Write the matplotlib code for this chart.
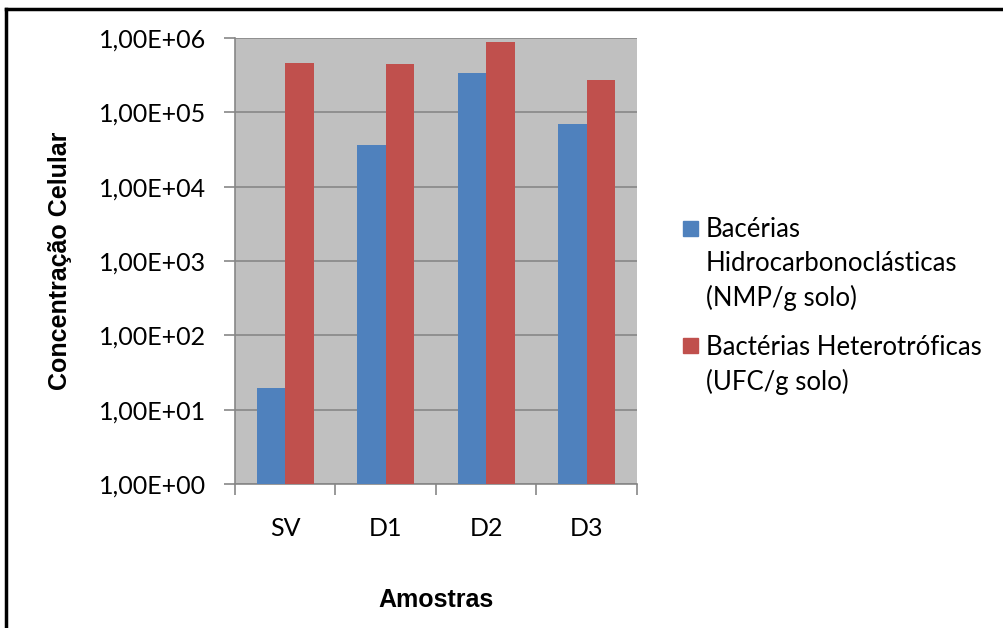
import matplotlib.pyplot as plt
import numpy as np
from matplotlib.patches import Rectangle
from matplotlib.lines import Line2D

# data
amostras = ['SV', 'D1', 'D2', 'D3']
hidrocarbonoclasticas = [19.5, 3.67e4, 3.35e5, 7.05e4]
heterotroficas = [4.66e5, 4.47e5, 8.93e5, 2.72e5]
serie_labels = ['Bacérias\nHidrocarbonoclásticas\n(NMP/g solo)',
                'Bactérias Heterotróficas\n(UFC/g solo)']
y_ticks = [1e0, 1e1, 1e2, 1e3, 1e4, 1e5, 1e6]
y_ticklabels = ['1,00E+00', '1,00E+01', '1,00E+02', '1,00E+03',
                '1,00E+04', '1,00E+05', '1,00E+06']

BLUE = '#4F81BD'
RED = '#C0504D'
GRID = '#878787'
TICKFONT = 'Lato'
TITLEFONT = ['Liberation Sans Narrow', 'Liberation Sans', 'DejaVu Sans']

W, H = 1004, 628
fig = plt.figure(figsize=(W / 100, H / 100), dpi=100)

# plot area in pixels: x 235..637, y 38..484
ax = fig.add_axes([235 / W, 1 - 484 / H, (637 - 235) / W, (484 - 38) / H])
ax.set_facecolor('#C0C0C0')

x = np.arange(len(amostras))
bw = 1 / 3.5
ax.bar(x - bw / 2, hidrocarbonoclasticas, width=bw, color=BLUE, zorder=3)
ax.bar(x + bw / 2, heterotroficas, width=bw, color=RED, zorder=3)

ax.set_yscale('log')
ax.set_ylim(1, 1e6)
ax.set_xlim(-0.5, len(amostras) - 0.5)
ax.set_yticks(y_ticks)
ax.set_yticklabels(y_ticklabels, fontfamily=TICKFONT, fontsize=18)
ax.yaxis.set_minor_locator(plt.NullLocator())
ax.grid(axis='y', color=GRID, linewidth=1.2, zorder=1)

# category ticks sit between groups, labels at centres
ax.set_xticks(np.arange(len(amostras) + 1) - 0.5)
ax.set_xticklabels([])
ax.set_xticks(x, minor=True)
ax.set_xticklabels(amostras, minor=True, fontfamily=TICKFONT, fontsize=18)
ax.tick_params(axis='x', which='minor', length=0, pad=24)
ax.tick_params(axis='x', which='major', length=8, color=GRID, width=1.2, direction='out')
ax.tick_params(axis='y', length=8, color=GRID, width=1.2, direction='out', pad=13)

for s in ['top', 'right']:
    ax.spines[s].set_visible(False)
for s in ['left', 'bottom']:
    ax.spines[s].set_color(GRID)
    ax.spines[s].set_linewidth(1.2)

# axis titles
fig.text(60 / W, 1 - 261 / H, 'Concentração Celular', rotation=90,
         ha='center', va='center', fontsize=18, fontweight='bold', family=TITLEFONT)
fig.text(436 / W, 1 - 600 / H, 'Amostras', ha='center', va='center',
         fontsize=18, fontweight='bold', family=TITLEFONT)

# legend, handle aligned with first text line as in the original
# (square top in px, last baseline in px)
leg_pos = [(221, 306), (338, 390)]
for col, lab, (sq, yb) in zip([BLUE, RED], serie_labels, leg_pos):
    fig.patches.append(Rectangle((683 / W, 1 - (sq + 15) / H), 15 / W, 15 / H,
                                 transform=fig.transFigure, color=col))
    fig.text(706 / W, 1 - yb / H, lab, ha='left', va='baseline',
             fontsize=18.5, family=TICKFONT, linespacing=1.44)

# black frame on top and left edges
fig.add_artist(Line2D([6 / W, 1], [1 - 8.5 / H, 1 - 8.5 / H], color='black',
                      linewidth=2.5, transform=fig.transFigure))
fig.add_artist(Line2D([6 / W, 6 / W], [0, 1 - 8.5 / H], color='black',
                      linewidth=2.5, transform=fig.transFigure))

fig.savefig('out.png', dpi=100)
